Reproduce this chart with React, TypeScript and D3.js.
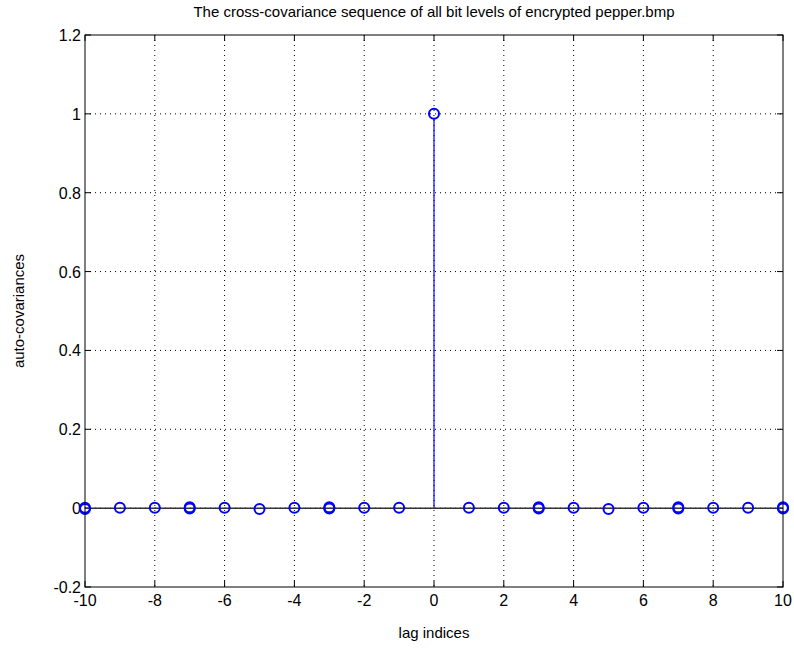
import React from "react";
import * as d3 from "d3";

const lags = [-10, -9, -8, -7, -6, -5, -4, -3, -2, -1, 0, 1, 2, 3, 4, 5, 6, 7, 8, 9, 10];
const values = [0.001, 0.001, 0.001, -0.001, 0.001, -0.002, 0.001, -0.001, 0.001, 0.001, 1, 0.001, 0.001, -0.001, 0.001, -0.002, 0.001, -0.001, 0.001, 0.001, -0.001];
// second bit-level series overlapping at some lags (appears as thicker markers)
const lags2 = [-10, -7, -3, 3, 7, 10];
const values2 = [-0.002, 0.002, 0.002, 0.002, 0.002, 0.002];
const xTicks = [-10, -8, -6, -4, -2, 0, 2, 4, 6, 8, 10];
const yTicks = [-0.2, 0, 0.2, 0.4, 0.6, 0.8, 1, 1.2];

const W = 794, H = 650;
const L = 85, R = 783, T = 35, B = 587;
const font = "'Liberation Sans', Arial, sans-serif";

export default function App() {
  const x = d3.scaleLinear().domain([-10, 10]).range([L, R]);
  const y = d3.scaleLinear().domain([-0.2, 1.2]).range([B, T]);
  const blue = "#0000ff";
  const fmt = (v: number) => (Math.abs(v) < 1e-9 ? "0" : String(+v.toFixed(1)));
  return (
    <svg width={W} height={H} style={{ position: "absolute", left: 0, top: 0, background: "#fff" }}>
      <rect x={0} y={0} width={W} height={H} fill="#fff" />
      {/* grid */}
      {xTicks.slice(1, -1).map((t) => (
        <line key={"gx" + t} x1={x(t)} x2={x(t)} y1={T} y2={B} stroke="#000" strokeWidth={1} strokeDasharray="1,4" />
      ))}
      {yTicks.slice(1, -1).map((t) => (
        <line key={"gy" + t} x1={L} x2={R} y1={y(t)} y2={y(t)} stroke="#000" strokeWidth={1} strokeDasharray="1,4" />
      ))}
      {/* ticks */}
      {xTicks.map((t) => (
        <g key={"tx" + t}>
          <line x1={x(t)} x2={x(t)} y1={B} y2={B - 6} stroke="#000" />
          <line x1={x(t)} x2={x(t)} y1={T} y2={T + 6} stroke="#000" />
          <text x={x(t)} y={B + 19} fontSize={16} fontFamily={font} textAnchor="middle" fill="#000">{fmt(t)}</text>
        </g>
      ))}
      {yTicks.map((t) => (
        <g key={"ty" + t}>
          <line x1={L} x2={L + 6} y1={y(t)} y2={y(t)} stroke="#000" />
          <line x1={R} x2={R - 6} y1={y(t)} y2={y(t)} stroke="#000" />
          <text x={L - 4} y={y(t) + 6} fontSize={16} fontFamily={font} textAnchor="end" fill="#000">{fmt(t)}</text>
        </g>
      ))}
      {/* stems */}
      {lags.map((l, i) => (
        <line key={"s" + l} x1={x(l)} x2={x(l)} y1={y(0)} y2={y(values[i]) + (values[i] > 0.05 ? 5 : 0)} stroke={blue} strokeWidth={1.2} />
      ))}
      {/* baseline */}
      <line x1={L} x2={R} y1={y(0)} y2={y(0)} stroke="#333" strokeWidth={1.5} />
      {/* markers */}
      {lags.map((l, i) => (
        <circle key={"m" + l} cx={x(l)} cy={y(values[i])} r={5} fill="none" stroke={blue} strokeWidth={2} />
      ))}
      {lags2.map((l, i) => (
        <circle key={"m2" + l} cx={x(l)} cy={y(values2[i])} r={5} fill="none" stroke={blue} strokeWidth={2} />
      ))}
      {/* axes box */}
      <rect x={L} y={T} width={R - L} height={B - T} fill="none" stroke="#000" strokeWidth={1} />
      {/* labels */}
      <text x={(L + R) / 2} y={17} fontSize={15} fontFamily={font} textAnchor="middle" fill="#000">
        The cross-covariance sequence of all bit levels of encrypted pepper.bmp
      </text>
      <text x={(L + R) / 2} y={638} fontSize={15} fontFamily={font} textAnchor="middle" fill="#000">lag indices</text>
      <text transform={`translate(24,${(T + B) / 2}) rotate(-90)`} fontSize={15} fontFamily={font} textAnchor="middle" fill="#000">auto-covariances</text>
    </svg>
  );
}
